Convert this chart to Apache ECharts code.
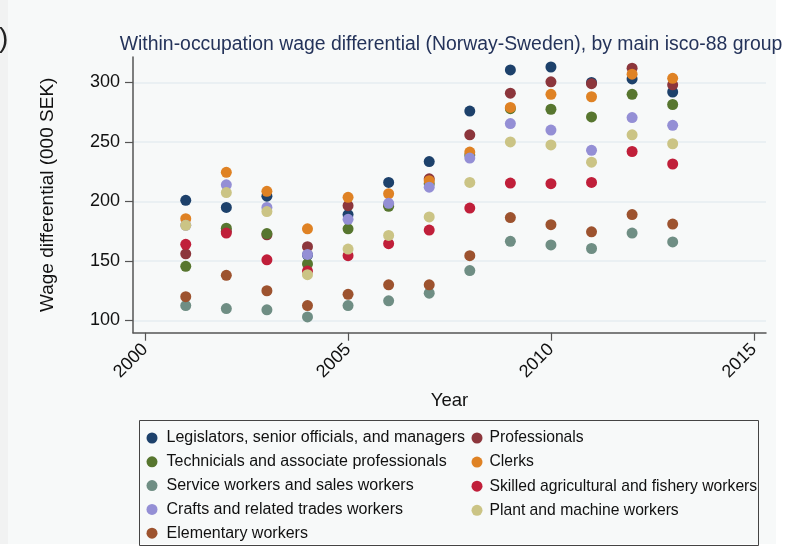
<!DOCTYPE html>
<html>
<head>
<meta charset="utf-8">
<script src="https://cdn.jsdelivr.net/npm/echarts@6/dist/echarts.min.js"></script>
<style>
  html, body { margin: 0; padding: 0; background: #ffffff; }
  #chart { width: 791px; height: 556px; }
</style>
</head>
<body>
<div id="chart"></div>
<script>
  // years on the x axis
  var years = [2001, 2002, 2003, 2004, 2005, 2006, 2007, 2008, 2009, 2010, 2011, 2012, 2013];
  var xTicks = [2000, 2005, 2010, 2015];
  var yTicks = [100, 150, 200, 250, 300];

  // wage differential, 000 SEK
  var legislators = [201, 195, 204.5, 155, 189, 216, 233.5, 276, 310.5, 313, 300, 303, 292];
  var professionals = [156, 175, 172, 162, 196.5, 197, 219, 256, 291, 300.5, 299, 312, 298];
  var technicians = [145.5, 177.5, 173, 147.5, 177, 196, 215, 239, 278, 277.5, 271, 290, 281.5];
  var clerks = [185.5, 224.5, 208.5, 177, 203.5, 206.5, 217.5, 241.5, 279, 290, 288, 307, 303.5];
  var service = [112.5, 110, 109, 103, 112.5, 116.5, 123, 142, 166.5, 163.5, 160.5, 173.5, 166];
  var agricultural = [164, 173.5, 151, 141.5, 154.5, 164.5, 176, 194.5, 215.5, 215, 216, 242, 231.5];
  var crafts = [180, 214, 195, 155.5, 185, 198.5, 212, 236.5, 265.5, 260, 243, 270.5, 264];
  var plant = [180, 207.5, 191.5, 138.5, 160, 171.5, 187, 216, 250, 247.5, 233, 256, 248.5];
  var elementary = [120, 138, 125, 112.5, 122, 130, 130, 154.5, 186.5, 180.5, 174.5, 189, 181];

  function pairs(vals) {
    return years.map(function (y, i) { return [y, vals[i]]; });
  }

  var groups = [
    { name: 'Legislators, senior officials, and managers', color: '#1d416b', data: legislators },
    { name: 'Professionals', color: '#8c363c', data: professionals },
    { name: 'Technicials and associate professionals', color: '#57762f', data: technicians },
    { name: 'Clerks', color: '#df8224', data: clerks },
    { name: 'Service workers and sales workers', color: '#6f8e84', data: service },
    { name: 'Skilled agricultural and fishery workers', color: '#c01f3a', data: agricultural },
    { name: 'Crafts and related trades workers', color: '#948fd5', data: crafts },
    { name: 'Plant and machine workers', color: '#cbc485', data: plant },
    { name: 'Elementary workers', color: '#9d532f', data: elementary }
  ];

  var series = groups.map(function (g) {
    return {
      name: g.name,
      type: 'scatter',
      symbol: 'circle',
      symbolSize: 11,
      itemStyle: { color: g.color, opacity: 1 },
      data: pairs(g.data)
    };
  });

  var fontFam = 'Liberation Sans, Arial, sans-serif';

  var chart = echarts.init(document.getElementById('chart'));
  chart.setOption({
    backgroundColor: '#ffffff',
    animation: false,
    graphic: [
      // panel background
      { type: 'rect', left: 0, top: 0, shape: { x: 15, y: 12, width: 776, height: 544 }, style: { fill: '#f7f9f9' }, z: -10 },
      { type: 'rect', left: 0, top: 0, shape: { x: 0, y: 12, width: 8, height: 544 }, style: { fill: '#f1f2f2' }, z: -10 },
      { type: 'text', left: -1, top: 25, style: { text: ')', fontSize: 28, fill: '#222222', fontFamily: fontFam } },
      // legend box
      { type: 'rect', shape: { x: 139.5, y: 420.5, width: 619, height: 125 }, style: { fill: 'none', stroke: '#444444', lineWidth: 1 }, z: 1 }
    ],
    title: {
      text: 'Within-occupation wage differential (Norway-Sweden), by main isco-88 group',
      left: 446,
      textAlign: 'center',
      top: 30,
      textStyle: { color: '#24335a', fontSize: 19.4, fontWeight: 'normal', fontFamily: fontFam }
    },
    legend: [
      {
        orient: 'vertical',
        left: 146.5,
        top: 430,
        padding: 0,
        itemWidth: 11,
        itemHeight: 11,
        itemGap: 7.8,
        icon: 'circle',
        textStyle: { color: '#111111', fontSize: 16, fontFamily: fontFam, padding: [0, 0, 0, 4] },
        data: [groups[0].name, groups[2].name, groups[4].name, groups[6].name, groups[8].name]
      },
      {
        orient: 'vertical',
        left: 471.5,
        top: 430,
        padding: 0,
        itemWidth: 11,
        itemHeight: 11,
        itemGap: 8.1,
        icon: 'circle',
        textStyle: { color: '#111111', fontSize: 15.7, fontFamily: fontFam, padding: [0, 0, 0, 2] },
        data: [groups[1].name, groups[3].name, groups[5].name, groups[7].name]
      }
    ],
    grid: { left: 133, right: 25, top: 57, bottom: 223.3, containLabel: false },
    xAxis: {
      type: 'value',
      min: 1999.7,
      max: 2015.3,
      name: 'Year',
      nameLocation: 'middle',
      nameGap: 59,
      nameTextStyle: { color: '#111111', fontSize: 18.5, fontFamily: fontFam },
      axisLine: { show: true, lineStyle: { color: '#555555', width: 1.5 } },
      axisTick: { show: true, length: 8, customValues: xTicks, lineStyle: { color: '#555555', width: 1.2 } },
      axisLabel: {
        customValues: xTicks,
        rotate: 45,
        margin: 14,
        color: '#111111',
        fontSize: 18,
        fontFamily: fontFam,
        formatter: function (v) { return String(v); }
      },
      splitLine: { show: false }
    },
    yAxis: {
      type: 'value',
      min: 89.75,
      max: 321.4,
      name: 'Wage differential (000 SEK)',
      nameLocation: 'middle',
      nameGap: 76,
      nameRotate: 90,
      nameTextStyle: { color: '#111111', fontSize: 19, fontFamily: fontFam },
      axisLine: { show: true, lineStyle: { color: '#555555', width: 1.5 } },
      axisTick: { show: true, length: 8, customValues: yTicks, lineStyle: { color: '#555555', width: 1.2 } },
      axisLabel: { customValues: yTicks, margin: 13, color: '#111111', fontSize: 18, fontFamily: fontFam },
      splitLine: { show: true, lineStyle: { color: '#e6edf1', width: 1.5 } }
    },
    series: series
  });
</script>
</body>
</html>
